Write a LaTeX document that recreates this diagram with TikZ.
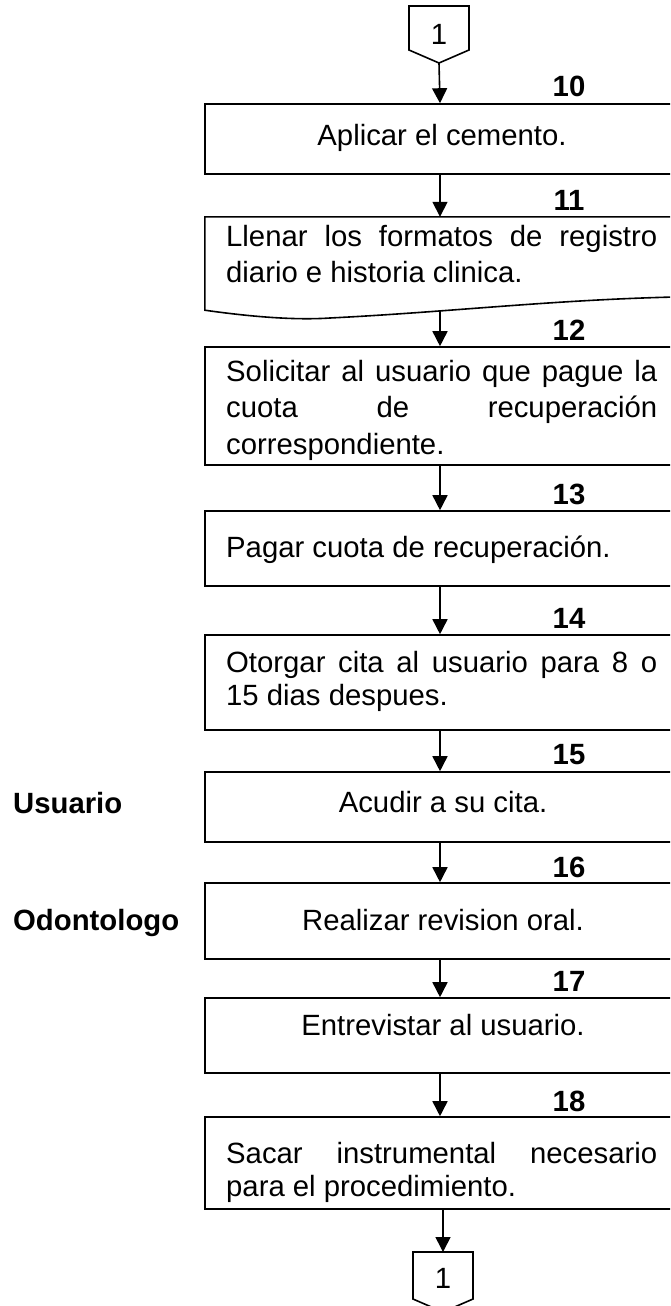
\documentclass[tikz,border=0pt]{standalone}
\usepackage{fontspec}
\setmainfont{Liberation Sans}
\usetikzlibrary{arrows.meta}
\hyphenpenalty=10000
\exhyphenpenalty=10000
\newcommand{\jl}[1]{\makebox[431pt][s]{#1}}
\newcommand{\nsp}{\spaceskip=0pt\xspaceskip=0pt\relax}
\begin{document}
\begin{tikzpicture}[x=1pt,y=-1pt,
  box/.style={draw, line width=1.6pt, rectangle, inner sep=0pt, minimum width=470pt},
  ghost/.style={rectangle, inner sep=0pt, minimum width=470pt},
  num/.style={font=\fontsize{29.3}{34}\selectfont\bfseries, anchor=base, inner sep=0pt},
  lab/.style={font=\fontsize{29.3}{34}\selectfont\bfseries, anchor=base west, inner sep=0pt},
  txt/.style={font=\fontsize{29.3}{34}\selectfont, inner sep=0pt},
  para/.style={txt, anchor=base west, text width=431pt, align=left},
  flow/.style={line width=1.6pt, -{Triangle[width=15pt,length=15pt]}},
  conn/.style={line width=1.6pt, line join=miter}]
\useasboundingbox (0,0) rectangle (670,1306);
\clip (0,0) rectangle (670,1306);

% top off-page connector
\draw[conn] (409,6) -- (469,6) -- (469,50) -- (439,63) -- (409,50) -- cycle;
\node[txt, anchor=base] (c1) at (439,45) {1};
\coordinate (c1tip) at (439,63);

% boxes
\node[box, minimum height=70pt] (b10) at (440,139) {};
\node[ghost, minimum height=93pt] (b11) at (440,263.5) {};
\draw[conn] (b11.south west) -- (b11.north west) -- (b11.north east) -- (675,297)
  .. controls (550,300) and (450,312) .. (330,318)
  .. controls (300,320) and (260,318) .. (b11.south west) -- cycle;
\coordinate (b11out) at (440,311);
\node[box, minimum height=118pt] (b12) at (440,406) {};
\node[box, minimum height=75pt] (b13) at (440,548.5) {};
\node[box, minimum height=95pt] (b14) at (440,682.5) {};
\node[box, minimum height=70pt] (b15) at (440,807) {};
\node[box, minimum height=76pt] (b16) at (440,921) {};
\node[box, minimum height=75pt] (b17) at (440,1035.5) {};
\node[box, minimum height=92pt] (b18) at (440,1163) {};

% bottom off-page connector
\draw[conn] (413,1252) -- (473,1252) -- (473,1299) -- (443,1312) -- (413,1299) -- cycle;
\node[txt, anchor=base] (c2) at (443,1288) {1};
\coordinate (c2top) at (443,1252);

% texts
\node[txt, anchor=base] (t10) at (442,145) {Aplicar el cemento.};
\node[para, font=\fontsize{29.3}{36}\selectfont] (t11) at (226,246)
  {\nsp\jl{Llenar los formatos de registro}\\diario e historia clinica.};
\node[para, font=\fontsize{29.3}{36.5}\selectfont] (t12) at (226,381)
  {\nsp\jl{Solicitar al usuario que pague la}\\\jl{cuota de recuperación}\\correspondiente.};
\node[txt, anchor=base west] (t13) at (226,557) {Pagar cuota de recuperación.};
\node[para, font=\fontsize{29.3}{33.5}\selectfont] (t14) at (226,672)
  {\nsp\jl{Otorgar cita al usuario para 8 o}\\15 dias despues.};
\node[txt, anchor=base] (t15) at (443,812) {Acudir a su cita.};
\node[txt, anchor=base] (t16) at (443,930) {Realizar revision oral.};
\node[txt, anchor=base] (t17) at (443,1035) {Entrevistar al usuario.};
\node[para, font=\fontsize{29.3}{33.5}\selectfont] (t18) at (226,1163)
  {\nsp\jl{Sacar instrumental necesario}\\para el procedimiento.};

% step numbers
\node[num] (n10) at (569,96) {10};
\node[num] (n11) at (569,210) {11};
\node[num] (n12) at (569,340) {12};
\node[num] (n13) at (569,504) {13};
\node[num] (n14) at (569,628) {14};
\node[num] (n15) at (569,764) {15};
\node[num] (n16) at (569,877) {16};
\node[num] (n17) at (569,991) {17};
\node[num] (n18) at (569,1111) {18};

% actors
\node[lab] (u) at (13,813) {Usuario};
\node[lab] (o) at (13,930) {Odontologo};

% connectors
\draw[flow] (c1tip) -- (b10.north);
\draw[flow] (b10.south) -- (b11.north);
\draw[flow] (b11out) -- (b12.north);
\draw[flow] (b12.south) -- (b13.north);
\draw[flow] (b13.south) -- (b14.north);
\draw[flow] (b14.south) -- (b15.north);
\draw[flow] (b15.south) -- (b16.north);
\draw[flow] (b16.south) -- (b17.north);
\draw[flow] (b17.south) -- (b18.north);
\draw[flow] (b18.south -| c2top) -- (c2top);
\end{tikzpicture}
\end{document}
